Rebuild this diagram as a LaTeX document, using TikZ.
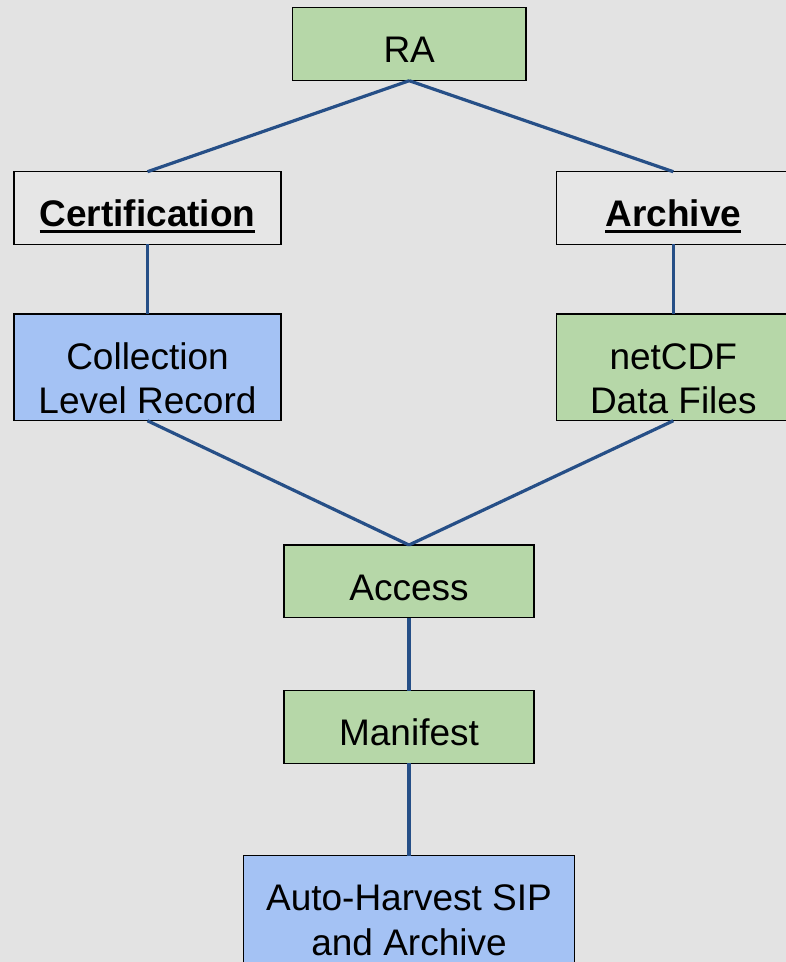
\documentclass[tikz,border=0pt]{standalone}
\usepackage{fontspec}
\setmainfont{Liberation Sans}
\definecolor{bg}{HTML}{E3E3E3}
\definecolor{wfill}{HTML}{E6E6E6}
\definecolor{gfill}{HTML}{B6D7A8}
\definecolor{bfill}{HTML}{A4C2F4}
\definecolor{conn}{RGB}{38,79,135}
\newcommand\boxtxt[3]{\parbox[c][#2][t]{#1}{\fontsize{37}{44.5}\selectfont\centering\rule{0pt}{55pt}#3}}
\newcommand\ulbf[1]{\setbox0\hbox{\bfseries #1}\rlap{\copy0}\rule[-6.5pt]{\wd0}{3pt}}
\begin{document}
\begin{tikzpicture}[x=1pt,y=-1pt,
  box/.style={draw=black,line width=1.3pt,inner sep=0pt,outer sep=0pt},
  green/.style={box,fill=gfill},
  blue/.style={box,fill=bfill},
  plain/.style={box,fill=wfill},
  link/.style={draw=conn,line width=3.2pt}]
\useasboundingbox (0,0) rectangle (786,962);
\fill[bg] (0,0) rectangle (786,962);
\clip (0,0) rectangle (786,962);
\node[green] (ra) at (409.2,44) {\boxtxt{233.4pt}{73.4pt}{RA}};
\node[plain] (cert) at (147.5,208) {\boxtxt{267pt}{72.6pt}{\ulbf{Certification}}};
\node[plain] (arch) at (673.3,208) {\boxtxt{233.4pt}{72.6pt}{\ulbf{Archive}}};
\node[blue] (clr) at (147.5,367.4) {\boxtxt{267pt}{106.7pt}{Collection\\Level Record}};
\node[green] (nc) at (673.3,367.4) {\boxtxt{233.4pt}{106.7pt}{netCDF\\Data Files}};
\node[green] (acc) at (409,581.3) {\boxtxt{250pt}{72.6pt}{Access}};
\node[green] (man) at (409,727) {\boxtxt{250pt}{72.6pt}{Manifest}};
\node[blue] (auto) at (409,925.7) {\boxtxt{331.4pt}{140pt}{Auto-Harvest SIP\\and Archive}};
\draw[link] (ra.south) -- (cert.north);
\draw[link] (ra.south) -- (arch.north);
\draw[link] (cert.south) -- (clr.north);
\draw[link] (arch.south) -- (nc.north);
\draw[link] (clr.south) -- (acc.north);
\draw[link] (nc.south) -- (acc.north);
\draw[link] (acc.south) -- (man.north);
\draw[link] (man.south) -- (auto.north);
\end{tikzpicture}
\end{document}
